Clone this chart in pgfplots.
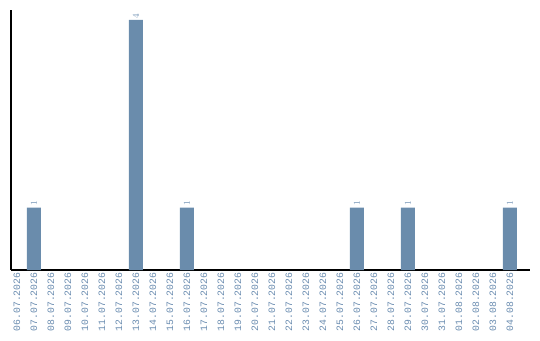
\documentclass[border=0pt]{standalone}
\usepackage{pgfplots}
\pgfplotsset{compat=1.18}
\usepackage{fontspec}
\newfontfamily\monofont{Liberation Mono}
\definecolor{barblue}{HTML}{6A8CAC}
\definecolor{lblblue}{HTML}{6A8CB0}

\pgfplotstableread{
x y
1 1
7 4
10 1
20 1
23 1
29 1
}\counts

\begin{document}
\begin{tikzpicture}[x=1bp,y=1bp]
\useasboundingbox (0,0) rectangle (540,340);
\begin{axis}[
  at={(11bp,70bp)}, anchor=south west,
  scale only axis,
  width=519bp, height=260bp,
  xmin=-0.353, xmax=30.18,
  ymin=0, ymax=4.16,
  axis x line=bottom, axis y line=left,
  axis line style={-, line width=1.2pt, black},
  xtick={0,...,29},
  xticklabels={06.07.2026,07.07.2026,08.07.2026,09.07.2026,10.07.2026,11.07.2026,12.07.2026,13.07.2026,14.07.2026,15.07.2026,16.07.2026,17.07.2026,18.07.2026,19.07.2026,20.07.2026,21.07.2026,22.07.2026,23.07.2026,24.07.2026,25.07.2026,26.07.2026,27.07.2026,28.07.2026,29.07.2026,30.07.2026,31.07.2026,01.08.2026,02.08.2026,03.08.2026,04.08.2026},
  x tick label style={rotate=90, anchor=east, font=\monofont\fontsize{9.8}{11}\selectfont, text=lblblue, inner sep=2.5pt},
  major tick length=0pt,
  ytick=\empty,
  clip=false,
]
\addplot[ybar, bar width=14bp, fill=barblue, draw=none,
  nodes near coords,
  every node near coord/.append style={rotate=90, anchor=west, font=\monofont\fontsize{9}{10}\selectfont, text=lblblue, inner sep=1.5pt}]
  table[x=x,y=y] {\counts};
\end{axis}
\end{tikzpicture}
\end{document}
